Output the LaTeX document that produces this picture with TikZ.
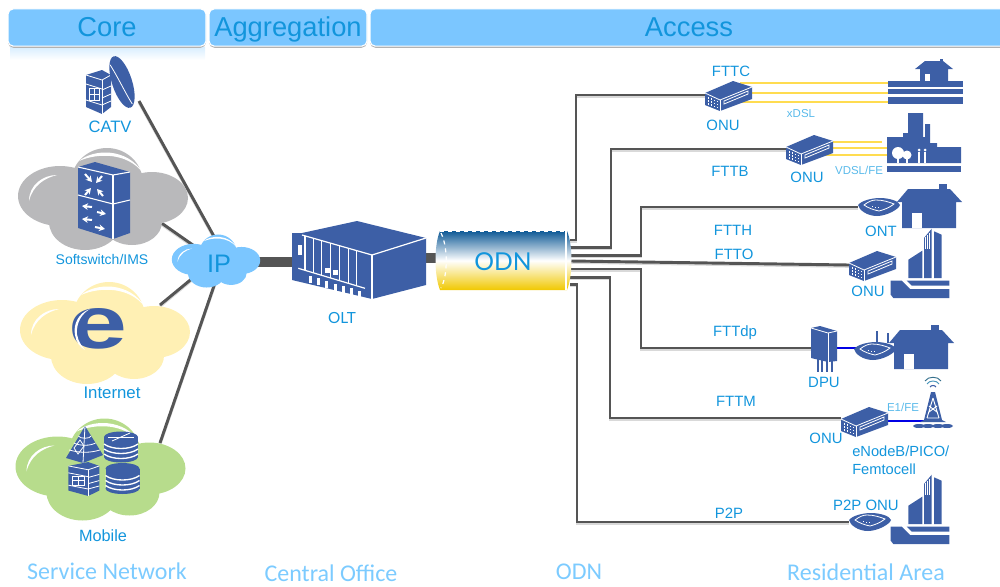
\documentclass[tikz,border=0pt]{standalone}
\usepackage{fontspec}
\setmainfont{Liberation Sans}
\newfontfamily\calfont{Carlito}
\newfontfamily\latofont{Lato}
\usetikzlibrary{arrows.meta,positioning,calc,backgrounds}
\definecolor{iconblue}{HTML}{3D5FA6}
\definecolor{tagblue}{HTML}{1295DC}
\definecolor{minitagblue}{HTML}{5ABAEA}
\definecolor{zoneblue}{HTML}{7CCBFF}
\definecolor{barblue}{HTML}{7BC6FF}
\definecolor{fibregray}{HTML}{555555}
\definecolor{dslyellow}{HTML}{FFDC50}
\definecolor{odnblue}{HTML}{0F5A96}
\definecolor{odnyellow}{HTML}{F0C800}
\definecolor{softgray}{HTML}{B9B9BB}
\definecolor{netyellow}{HTML}{FFF0B4}
\definecolor{mobilegreen}{HTML}{B7DC8C}
\tikzset{
  tag/.style={text=tagblue, font=\fontsize{11.2}{13}\selectfont},
  minitag/.style={text=minitagblue, font=\fontsize{8.6}{10}\selectfont},
  zone/.style={text=zoneblue, font=\calfont\fontsize{18}{20}\selectfont},
  barbox/.style={fill=barblue, draw=white, line width=0.8pt, rounded corners=4pt,
    minimum height=28pt, text=tagblue, font=\fontsize{20.5}{24}\selectfont,
    text height=16pt, text depth=2.8pt,
    preaction={fill=black!30, draw=none, transform canvas={yshift=-1.2pt}}},
  fibre/.style={draw=fibregray, line width=2.2pt,
    preaction={draw=black!15, line width=2.2pt, transform canvas={yshift=-1pt}}},
  trunk/.style={draw=fibregray, line width=7.5pt},
  dsl/.style={draw=dslyellow, line width=1.5pt},
  copper/.style={draw=blue!90!black, line width=2pt},
  hair/.style={draw=white, line width=0.6pt},
  whitearrow/.style={draw=white, line width=1.5pt, -{Stealth[length=4.5pt,width=5pt]}},
}
\tikzset{
  pics/cloudicon/.style={code={
    \fill[#1] (-43,-3) ellipse [x radius=42, y radius=30];
    \fill[#1] (4,-16) ellipse [x radius=36, y radius=35];
    \fill[#1] (49,-1) ellipse [x radius=36, y radius=26];
    \fill[#1] (-18,23) ellipse [x radius=36, y radius=28];
    \fill[#1] (29,23) ellipse [x radius=30, y radius=23];
    \fill[white] (-74,2) .. controls (-74,-14) and (-60,-24) .. (-46,-24)
      .. controls (-58,-21) and (-70,-14) .. (-74,2) -- cycle;
    \fill[white] (-24,-38) .. controls (-10,-50) and (24,-52) .. (40,-26)
      .. controls (24,-47) and (-6,-46) .. (-24,-38) -- cycle;
  }},
  pics/onubox/.style={code={
    \fill[iconblue] (6,-15) -- (25,-9) -- (25,3) -- (-7,15) -- (-22,9) -- (-22,-3) -- cycle;
    \draw[hair] (-22,-3) -- (-7,4) -- (25,-9);
    \draw[hair] (-7,4) -- (-7,15);
    \draw[hair] (-3,8) -- (21,-2) -- (21,-5) -- (-3,5) -- cycle;
    \foreach \dx in {-19,-16,-13,-10}
      \foreach \dy in {0,3,6}
        \fill[white] (\dx,{\dy+(\dx+22)*.4}) rectangle ++(1.3,1.3);
    \coordinate (-in) at (-22,-1);
    \coordinate (-out) at (25,-1);
  }},
  pics/ontbox/.style={code={
    \fill[iconblue] (-21,-2) .. controls (-18,-6) and (-8,-9) .. (1,-9)
      .. controls (10,-9) and (20,-6) .. (21,-2)
      .. controls (20,2) and (8,9) .. (-2,9)
      .. controls (-12,9) and (-20,3) .. (-21,-2) -- cycle;
    \draw[hair] (-15,-2) .. controls (-10,-6) and (-6,-7) .. (-3,-7)
      .. controls (4,-7) and (10,-5) .. (15,-3) .. controls (10,1) and (4,3) .. (0,4)
      .. controls (-5,3) and (-11,1) .. (-15,-2) -- cycle;
    \foreach \dx in {-7,-4,-1}
      \fill[white] (\dx,{-1+(\dx+7)*.2}) rectangle ++(1.3,1.2);
    \coordinate (-in) at (-21,0);
    \coordinate (-out) at (21,0);
  }},
  pics/housebox/.style={code={
    \fill[iconblue] (9,-22) rectangle (17,-14);
    \fill[iconblue] (-33,-4) -- (-22,-17) -- (20,-17) -- (32,-4) -- (26,-4) -- (26,22)
      -- (-28,22) -- (-28,-4) -- cycle;
    \fill[white] (-18,7) rectangle (-8,22);
  }},
  pics/towerblock/.style={code={
    \fill[iconblue] (-11.7,-3.3) -- (2.3,-12.3) -- (2.3,15) -- (-11.7,15) -- cycle;
    \fill[iconblue] (4,-25) -- (11.7,-34.3) -- (11.7,15) -- (4,15) -- cycle;
    \fill[iconblue] (14,-31.7) -- (21.7,-28.3) -- (21.7,15) -- (14,15) -- cycle;
    \foreach \wx in {5.5,7.5,9.5}
      \draw[hair] (\wx,{-25-(\wx-4)*.9}) -- (\wx,-14);
    \fill[iconblue] (-13.3,17.7) -- (29.3,17.7) -- (29.3,22.7) -- (-8.3,22.7) -- cycle;
    \fill[iconblue] (-29.3,17.7) -- (-18.3,17.7) -- (-10,26) -- (29.3,26) -- (29.3,35)
      -- (-26.7,35) -- (-29.3,31.7) -- cycle;
  }},
  pics/firewall/.style={code={
    \fill[iconblue] (-13,-17) -- (3,-22) -- (12,-17) -- (12,15) -- (3,22) -- (-13,15) -- cycle;
    \draw[hair] (-13,-17) -- (3,-12) -- (12,-17);
    \draw[hair] (3,-12) -- (3,22);
    \foreach \by in {-3,5,12}
      \draw[hair] (3,\by+1) -- (12,\by-3);
    \foreach \by in {-8,8}
      \draw[hair] (-13,\by) -- (3,\by+5);
    \draw[hair] (-10,-4) rectangle (0,8);
    \draw[hair] (-5,-4) -- (-5,8);
    \draw[hair] (-10,2) -- (0,2);
  }},
  pics/diskstack/.style={code={
    \fill[iconblue] (-17,-10) rectangle (17,10);
    \fill[iconblue] (0,-10) ellipse [x radius=17, y radius=5.5];
    \fill[iconblue] (0,10) ellipse [x radius=17, y radius=5.5];
    \foreach \by in {-3,2,7}
      \draw[draw=white, line width=1pt] (-17,\by) .. controls (-9,\by+6) and (9,\by+6) .. (17,\by);
  }},
}
\begin{document}
\begin{tikzpicture}[x=0.75pt, y=-0.75pt]
\useasboundingbox (0,0) rectangle (1000,586);

% top bars
\shade[top color=barblue!30, bottom color=white] (10,47) rectangle (205,60);
\node[barbox, minimum width=148.5pt] (barCore) at (107,27.5) {Core};
\node[barbox, minimum width=118.5pt] (barAggr) at (288,27.5) {Aggregation};
\node[barbox, minimum width=478.5pt] (barAccess) at (689,27.5) {Access};

% service network clouds
\pic (cloudSoft) at (103,199) {cloudicon=softgray};
\pic (cloudNet) at (105,333) {cloudicon=netyellow};
\pic (cloudMobile) at (100.5,469.5) {cloudicon=mobilegreen};
\pic[scale=.52] (cloudIP) at (216,261) {cloudicon=barblue};
\coordinate (ipEast) at (250,262);

% catv head end
\pic (catvWall) at (99,92) {firewall};
\begin{scope}[rotate around={18:(122,82)}]
  \fill[iconblue] (122,82) ellipse [x radius=10, y radius=27];
  \draw[hair] (116,62) .. controls (120,78) and (122,95) .. (125,106);
\end{scope}

% softswitch
\fill[iconblue] (95,162) -- (130,172) -- (130,233) -- (113,239) -- (78,228) -- (78,167) -- cycle;
\draw[hair, line width=.8pt] (78,167) -- (113,175) -- (130,172);
\draw[hair, line width=.8pt] (113,175) -- (113,239);
\draw[hair, line width=.8pt] (78,195) -- (113,204) -- (130,200);
\foreach \ax/\ay/\bx/\by in {85/174/92/182, 102/176/96/183, 85/195/91/188, 103/196/97/189,
  92/207/82/206, 97/212/106/214, 92/220/82/219, 95/227/105/229}
  \draw[whitearrow] (\ax,\ay) -- (\bx,\by);

% internet
\node[text=iconblue, font=\bfseries\fontsize{68}{68}\selectfont, transform shape, xscale=1.17, yscale=.82] (netE) at (97.5,328.5) {e};
\fill[white] (90,309) .. controls (78,313) and (73,325) .. (75,335)
  .. controls (76,342) and (80,347) .. (85,350)
  .. controls (79,343) and (76,336) .. (77,329)
  .. controls (78,320) and (83,313) .. (90,309) -- cycle;

% mobile
\fill[iconblue] (85,426) -- (103,455) -- (83,463) -- (66,458) -- cycle;
\foreach \py in {436,443,450}
  \draw[hair] ({85-(\py-426)*.66},\py) .. controls (80,\py+3) and (90,\py+3) .. ({85+(\py-426)*.62},\py);
\draw[hair] (85,426) -- (83,463);
\draw[hair] (74,448) -- (80,440) -- (84,446) -- (78,454) -- cycle;
\pic[xscale=1.24,yscale=.77] (mobileWall) at (84.5,479) {firewall};
\pic (mobileDisk) at (122.5,478.5) {diskstack};
\pic (mobileRouter) at (121,447) {diskstack};
\draw[hair] (108,437) -- (134,437);
\draw[hair] (112,441) -- (130,433);

% olt
\fill[iconblue] (292,233) -- (302,233) -- (357,221) -- (426,238) -- (426,285) -- (372,299) -- (292,280) -- cycle;
\draw[hair, line width=.9pt] (302,235) -- (372,255) -- (426,238);
\draw[hair, line width=.9pt] (372,255) -- (372,299);
\draw[hair, line width=.9pt] (298.3,268.3) -- (365,288.3);
\foreach \sx [evaluate=\sx as \st using 235+(\sx-302)*.286,
              evaluate=\sx as \sb using 268.3+(\sx-298.3)*.3] in {305,313.3,321.7,330.7,339.3,348.3,356.7}
  \draw[hair, line width=.9pt] (\sx,\st) -- (\sx,\sb);
\foreach \sx [evaluate=\sx as \st using 276+(\sx-310)*.3] in {310,318.3,326.7,335,343.3,351,359.3}
  \fill[white] (\sx-1.5,\st) rectangle (\sx+1.5,\st+7);
\fill[white] (297.7,245) rectangle (302.3,255);
\fill[white] (325,268) rectangle (329.5,273);
\fill[white] (333.3,270) rectangle (337.7,275);
\coordinate (oltWest) at (295,262);
\coordinate (oltEast) at (424,258);

% odn barrel
\path[top color=odnblue, bottom color=odnyellow, middle color=white]
  (440,231) .. controls (434,245) and (434,275) .. (440,290) -- (567,290)
  .. controls (573,275) and (573,245) .. (567,231) -- cycle;
\draw[draw=white, line width=.9pt, dashed] (440,231) -- (567,231);
\draw[draw=white, line width=.9pt, dashed] (441,233) .. controls (448,247) and (448,275) .. (441,288);
\draw[draw=white, line width=.9pt] (566,231) -- (566,290);
\node[text=tagblue, font=\latofont\fontsize{18.5}{20}\selectfont] (odn) at (503,262) {ODN};
\coordinate (odnWest) at (438,258);
\coordinate (odnC) at (570,240);
\coordinate (odnB) at (570,247.5);
\coordinate (odnH) at (571,255.5);
\coordinate (odnO) at (571,261);
\coordinate (odnDp) at (571,269);
\coordinate (odnM) at (570,277.5);
\coordinate (odnP) at (570,284.5);

% fttc end
\pic (onuC) at (727,96) {onubox};
\fill[iconblue] (940,59) rectangle (943,66);
\fill[iconblue] (915,69) -- (925,61) -- (943,61) -- (953,69) -- (948,69) -- (948,81) -- (920,81) -- (920,69) -- cycle;
\fill[white] (925,74) rectangle (930,81);
\fill[iconblue] (888,81) rectangle (963,87);
\fill[iconblue] (888,89) rectangle (963,94);
\fill[iconblue] (888,97) rectangle (963,104);
\coordinate (dslC1) at (888,83);
\coordinate (dslC2) at (888,93);
\coordinate (dslC3) at (888,102);
\coordinate (onuC1) at (740,83);
\coordinate (onuC2) at (750,93);
\coordinate (onuC3) at (742,102);

% fttb end
\pic (onuB) at (808,150) {onubox};
\fill[iconblue] (887,137) -- (903,137) -- (903,133) -- (908,133) -- (908,113) -- (923,113) -- (923,137)
  -- (925,137) -- (925,124) -- (930,124) -- (930,143) -- (937,143) -- (937,147) -- (961,147)
  -- (961,163) -- (887,163) -- cycle;
\fill[iconblue] (887,166) rectangle (961,172);
\fill[white] (898,153) circle [radius=6];
\fill[white] (907,155) circle [radius=4.5];
\draw[draw=white, line width=1pt] (898,153) -- (898,163) (907,155) -- (907,163);
\foreach \fx in {919,925} {
  \fill[white] (\fx,150) circle [radius=1.5];
  \draw[draw=white, line width=1.6pt] (\fx,152) -- (\fx,163);
}
\coordinate (dslB1) at (882,142);
\coordinate (dslB2) at (887,148);
\coordinate (dslB3) at (887,155);
\coordinate (onuB1) at (831,142);
\coordinate (onuB2) at (830,148);
\coordinate (onuB3) at (823,155);

% ftth, ftto, p2p ends
\pic (ontH) at (879,207) {ontbox};
\pic (homeH) at (930,206) {housebox};
\pic (onuO) at (871,266) {onubox};
\pic (towerO) at (920,263) {towerblock};
\pic (ontP) at (870,522) {ontbox};
\pic (towerP) at (920,509) {towerblock};

% fttdp end
\fill[iconblue] (820,326) -- (837,331) -- (837,361) -- (828,362) -- (811,358) -- (811,328) -- cycle;
\draw[hair] (811,328) -- (828,333) -- (837,331);
\draw[hair] (828,333) -- (828,362);
\foreach \lx in {818,822,827,832}
  \draw[draw=iconblue, line width=1.3pt] (\lx,358) -- (\lx,372);
\coordinate (dpuWest) at (811,348);
\coordinate (dpuEast) at (837,348);
\coordinate (ontDpIn) at (857,348);
\draw[draw=iconblue, line width=1.3pt] (877,331) -- (877,343);
\draw[draw=iconblue, line width=1.3pt] (888,333) -- (888,343);
\pic (ontDp) at (875,351) {ontbox};
\pic (homeDp) at (922,347) {housebox};

% fttm end
\pic (onuM) at (863,422) {onubox};
\coordinate (onuMin) at (841,418);
\fill[iconblue] (931,392) -- (935,392) -- (942,420) -- (946,422) -- (920,422) -- (924,420) -- cycle;
\draw[draw=white, line width=.7pt] (933,398) -- (927,418) (933,398) -- (939,418)
  (929,412) -- (937,406) (937,412) -- (929,406) (927,418) -- (939,418);
\foreach \dx in {-14,-5,5,14}
  \fill[iconblue] (933+\dx,426) ellipse [x radius=6, y radius=2];
\draw[draw=iconblue, line width=.8pt] (930,387) .. controls (931,385) and (935,385) .. (936,387);
\draw[draw=minitagblue!80!black, line width=.7pt] (927,384) .. controls (929,380) and (937,380) .. (939,384);
\draw[draw=minitagblue!60!black, line width=.7pt] (925,381) .. controls (928,376) and (938,376) .. (941,381);
\coordinate (towerM) at (926,421);

% connectors
\begin{scope}[on background layer]
  \coordinate (catvOut) at (139,101);
  \coordinate (softOut) at (160,222);
  \coordinate (netOut) at (160,305);
  \coordinate (mobileOut) at (160,443);
  \coordinate (ipCatv) at (216,240);
  \coordinate (ipSoft) at (200,250);
  \coordinate (ipNet) at (200,272);
  \coordinate (ipMobile) at (216,280);
  \draw[fibre] (catvOut) -- (ipCatv);
  \draw[fibre] (softOut) -- (ipSoft);
  \draw[fibre] (netOut) -- (ipNet);
  \draw[fibre] (mobileOut) -- (ipMobile);
  \draw[trunk] (ipEast) -- (oltWest);
  \draw[trunk] (oltEast) -- (odnWest);
  \draw[fibre] (odnC) -- ++(6,0) |- (onuC-in);
  \draw[fibre] (odnB) -- ++(41,0) |- (onuB-in);
  \draw[fibre] (odnH) -- ++(70,0) |- (ontH-in);
  \draw[fibre] (odnO) -- (onuO-in);
  \draw[fibre] (odnDp) -- ++(70,0) |- (dpuWest);
  \draw[fibre] (odnM) -- ++(40,0) |- (onuMin);
  \draw[fibre] (odnP) -- ++(7,0) |- (ontP-in);
  \draw[dsl] (onuC1) -- (dslC1);
  \draw[dsl] (onuC2) -- (dslC2);
  \draw[dsl] (onuC3) -- (dslC3);
  \draw[dsl] (onuB1) -- (dslB1);
  \draw[dsl] (onuB2) -- (dslB2);
  \draw[dsl] (onuB3) -- (dslB3);
  \draw[copper] (dpuEast) -- (ontDpIn);
  \draw[copper] (onuM-out |- towerM) -- (towerM);
\end{scope}

% labels
\node[tag, font=\fontsize{12.4}{14}\selectfont] (catvTag) at (110,127) {CATV};
\node[tag, font=\fontsize{10.5}{12}\selectfont] (softTag) at (102,259) {Softswitch/IMS};
\node[tag, font=\fontsize{12.6}{14}\selectfont] (netTag) at (112,393) {Internet};
\node[tag, font=\fontsize{12.2}{14}\selectfont] (mobileTag) at (103,536) {Mobile};
\node[text=tagblue, font=\fontsize{19}{21}\selectfont] (ipTag) at (219,264) {IP};
\node[text=tagblue, font=\latofont\fontsize{11.5}{13}\selectfont] (oltTag) at (342,318) {OLT};
\node[tag] (ftcTag) at (731,71) {FTTC};
\node[tag] (onuCTag) at (723,125) {ONU};
\node[minitag] (xdslTag) at (801,114) {xDSL};
\node[tag] (ftbTag) at (730,171) {FTTB};
\node[tag] (onuBTag) at (807,177) {ONU};
\node[minitag] (vdslTag) at (859,170) {VDSL/FE};
\node[tag] (fthTag) at (733,230) {FTTH};
\node[tag] (ontTag) at (881,231) {ONT};
\node[tag] (ftoTag) at (734,254) {FTTO};
\node[tag] (onuOTag) at (868,291) {ONU};
\node[tag] (ftdpTag) at (735,333) {FTTdp};
\node[tag] (dpuTag) at (824,382) {DPU};
\node[tag] (ftmTag) at (736,401) {FTTM};
\node[minitag] (e1Tag) at (903,407) {E1/FE};
\node[tag] (onuMTag) at (826,438) {ONU};
\node[tag, align=left, anchor=west, inner sep=0pt, font=\fontsize{11}{13.5}\selectfont] (cellTag) at (852,460)
  {eNodeB/PICO/\\Femtocell};
\node[tag] (p2pTag) at (729,513) {P2P};
\node[tag] (onuPTag) at (866,505) {P2P ONU};
\node[zone] (zoneService) at (107,571) {Service Network};
\node[zone] (zoneCentral) at (331,573) {Central Office};
\node[zone] (zoneOdn) at (579,572) {ODN};
\node[zone] (zoneHome) at (866,572) {Residential Area};
\end{tikzpicture}
\end{document}
